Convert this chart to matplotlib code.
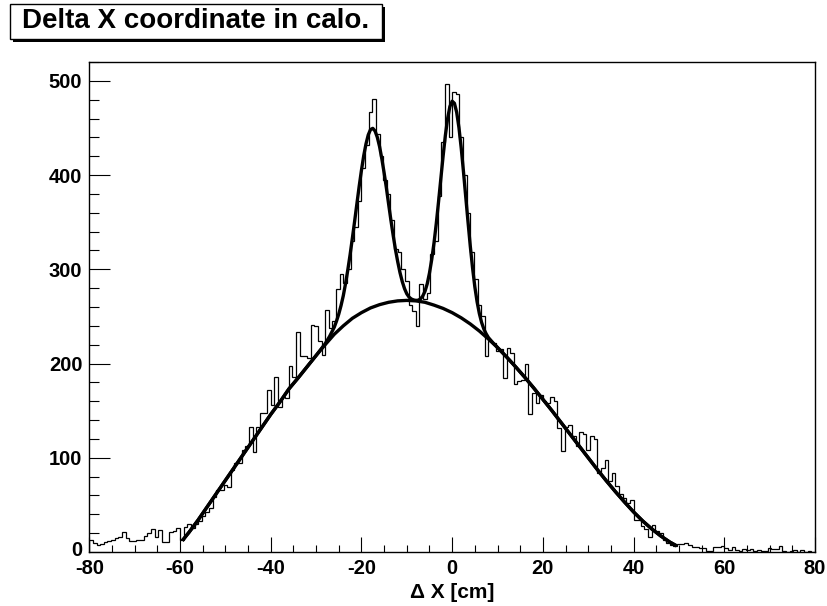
import matplotlib
matplotlib.use("Agg")
import matplotlib.pyplot as plt
from matplotlib.patches import Rectangle
from matplotlib.transforms import ScaledTranslation
import numpy as np

# ---------------- data ----------------
x_min, x_max = -80.0, 80.0
n_bins = 200
counts = [
    13, 10, 7, 9, 11, 12, 13, 15, 16, 21, 15, 12, 12, 13, 13, 17, 20, 24, 16, 23,
    11, 11, 21, 22, 26, 13, 27, 30, 26, 30, 33, 38, 42, 47, 58, 66, 66, 71, 69, 87,
    94, 94, 108, 112, 133, 106, 133, 147, 147, 172, 156, 186, 154, 165, 163, 197, 186, 233, 208, 208,
    206, 241, 240, 224, 209, 257, 238, 245, 279, 295, 285, 300, 330, 345, 372, 408, 432, 467, 481, 444,
    420, 395, 380, 352, 322, 318, 300, 288, 262, 256, 240, 284, 268, 275, 316, 330, 378, 435, 497, 440,
    488, 486, 440, 400, 360, 318, 290, 262, 250, 208, 224, 222, 213, 215, 185, 217, 211, 178, 181, 183,
    200, 146, 169, 158, 167, 160, 158, 164, 160, 132, 107, 133, 135, 123, 112, 127, 125, 108, 123, 120,
    84, 89, 98, 75, 84, 70, 62, 57, 52, 55, 34, 34, 28, 24, 16, 29, 22, 20, 13, 10,
    7, 6, 9, 9, 10, 7, 5, 5, 4, 4, 1, 1, 5, 5, 6, 4, 2, 5, 2, 1,
    3, 2, 3, 1, 2, 1, 1, 4, 3, 3, 6, 1, 0, 1, 2, 0, 2, 0, 1, 0,
]

# background fit curve
bkg_x = [-59.5, -58, -56, -54, -52, -50, -48, -46, -44, -42, -40, -38, -36, -34, -32, -30,
         -28, -26, -24, -22, -20, -18, -16, -14, -12, -10, -8, -6, -4, -2, 0, 2, 4, 6, 8,
         10, 12, 14, 16, 18, 20, 22, 24, 26, 28, 30, 32, 34, 36, 38, 40, 42, 44, 46, 48, 49.5]
bkg_y = [12, 21, 34, 48, 62, 76, 90, 104, 118, 132, 146, 159, 173, 184.5, 196.5, 208.5,
         220, 231, 240, 248, 254, 259, 262.5, 265, 266.5, 267, 266.5, 265, 262, 258.5, 254, 248.5, 242, 234.5, 226,
         217, 207, 196.5, 185.5, 174, 162, 150, 137.5, 125, 112.5, 100, 87.5, 75.5, 64, 53, 42.5, 33, 24.5, 17, 10.5, 6.5]

# total fit curve (background + two peaks)
tot_x = [-59.5, -58, -56, -54, -52, -50, -48, -46, -44, -42, -40, -38, -36, -34, -32, -30, -28,
         -27, -26, -25.5, -25, -24.5, -24, -23.5, -23, -22.5, -22, -21.5, -21, -20.5, -20, -19.5,
         -19, -18.5, -18, -17.5, -17, -16.5, -16, -15.5, -15, -14.5, -14, -13.5, -13, -12.5, -12,
         -11.5, -11, -10.5, -10, -9.5, -9, -8.5, -8, -7.5, -7, -6.5, -6, -5.5, -5, -4.5, -4, -3.5,
         -3, -2.5, -2, -1.5, -1, -0.5, 0, 0.5, 1, 1.5, 2, 2.5, 3, 3.5, 4, 4.5, 5, 5.5, 6, 6.5, 7,
         7.5, 8, 9, 10, 12, 14, 16, 18, 20, 22, 24, 26, 28, 30, 32, 34, 36, 38, 40, 42, 44, 46, 48, 49.5]
tot_y = [12, 21, 34, 48, 62, 76, 90, 104, 118, 132, 146, 159, 173, 184.5, 196.5, 208.5, 221,
         229, 238.5, 245, 252.5, 261.5, 272, 285, 299.5, 315.5, 333, 351, 369.6, 388, 405, 420.4,
         433, 442.6, 448.3, 449.6, 446.8, 440.1, 430.2, 417.2, 402.4, 386.4, 369, 352, 336, 321, 308,
         296.5, 287, 279.5, 274, 270.5, 268.5, 267.5, 267, 267.2, 268.5, 271.5, 276.5, 284.5, 296, 310.5, 328, 348.5,
         371.7, 395.9, 419.9, 441.9, 460, 472.7, 478.4, 476.2, 466.6, 450.3, 428.7, 403.4, 376.7, 350.2, 324.5, 301.5, 281.5, 265.5, 253, 243.5, 236.5,
         231.5, 227.5, 222, 217, 207, 196.5, 185.5, 174, 162, 150, 137.5, 125, 112.5, 100, 87.5, 75.5, 64, 53, 42.5, 33, 24.5, 17, 10.5, 6.5]

x_ticks = [-80, -60, -40, -20, 0, 20, 40, 60, 80]
y_ticks = [0, 100, 200, 300, 400, 500]
title = "Delta X coordinate in calo."
x_label = "\u0394 X [cm]"

# ---------------- figure ----------------
W, H = 828, 606
fig = plt.figure(figsize=(W / 100, H / 100), dpi=100)
fig.patch.set_facecolor("white")

L, R, T, B = 89.3, 815.0, 62.0, 552.0
ax = fig.add_axes([L / W, 1 - B / H, (R - L) / W, (B - T) / H])
ax.set_xlim(x_min, x_max)
ax.set_ylim(0, 520)

edges = np.linspace(x_min, x_max, n_bins + 1)
ax.stairs(counts, edges, color="black", lw=0.9, baseline=0)
ax.plot(bkg_x, bkg_y, color="black", lw=2.4, solid_capstyle="butt", solid_joinstyle="round")
ax.plot(tot_x, tot_y, color="black", lw=2.4, solid_capstyle="butt", solid_joinstyle="round")

font = "Liberation Sans"
ax.set_xticks(x_ticks)
ax.set_yticks(y_ticks)
ax.set_xticks(np.arange(-80, 81, 5), minor=True)
ax.set_yticks(np.arange(0, 521, 20), minor=True)
ax.set_xticklabels([str(v) for v in x_ticks], fontsize=14.5, fontweight="bold", family=font)
ax.set_yticklabels([str(v) for v in y_ticks], fontsize=14.5, fontweight="bold", family=font)
ax.tick_params(axis="x", which="major", direction="in", length=10.5, width=0.8, pad=5,
               top=False, bottom=True)
ax.tick_params(axis="x", which="minor", direction="in", length=5, width=0.8, top=False, bottom=True)
ax.tick_params(axis="y", which="major", direction="in", length=15, width=0.8, pad=5,
               right=False, left=True)
ax.tick_params(axis="y", which="minor", direction="in", length=7.5, width=0.8, right=False, left=True)
zero_lab = ax.get_yticklabels()[0]
zero_lab.set_transform(zero_lab.get_transform() + ScaledTranslation(0, 0.03, fig.dpi_scale_trans))
for s in ax.spines.values():
    s.set_color("black")
    s.set_linewidth(1.0)

fig.text(452 / W, 1 - 592 / H, x_label, ha="center", va="center", fontsize=15,
         fontweight="bold", family=font)

# title box with shadow
bx0, by0, bx1, by1 = 10, 4, 382, 39
sh = 3
fig.patches.append(Rectangle(((bx0 + sh) / W, 1 - (by1 + sh) / H),
                             (bx1 - bx0) / W, (by1 - by0) / H, transform=fig.transFigure,
                             facecolor="black", edgecolor="black", lw=0))
fig.patches.append(Rectangle((bx0 / W, 1 - by1 / H), (bx1 - bx0) / W, (by1 - by0) / H,
                             transform=fig.transFigure, facecolor="white", edgecolor="black", lw=1.0))
fig.text((bx0 + bx1) / 2 / W, 1 - (by0 + by1) / 2 / H, title, ha="center", va="center",
         fontsize=20, fontweight="bold", family=font)

fig.savefig("out.png", dpi=100)
